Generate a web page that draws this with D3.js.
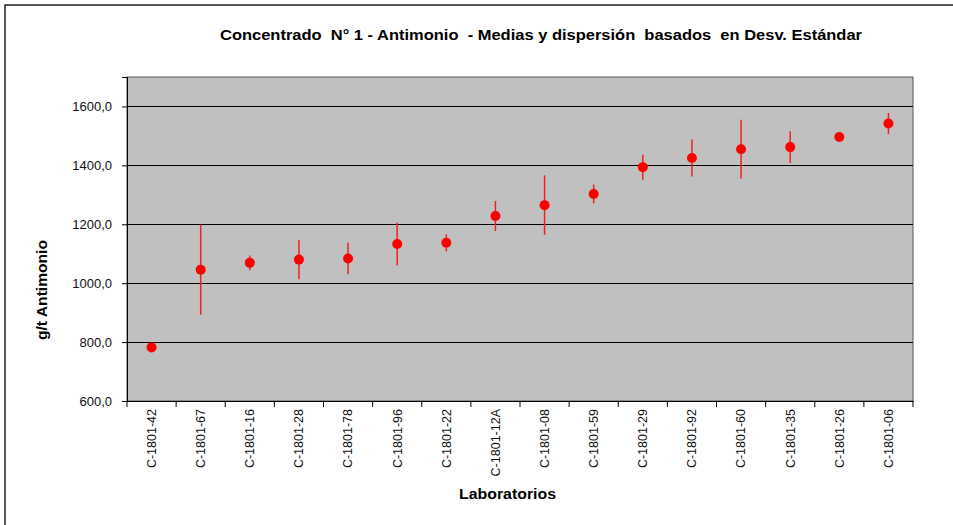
<!DOCTYPE html>
<html><head><meta charset="utf-8">
<script src="https://cdn.jsdelivr.net/npm/d3@7"></script>
<style>body{margin:0;background:#fff;} svg{display:block;font-family:Arial,"Liberation Sans",sans-serif;}</style>
</head><body>
<svg id="c" width="953" height="525"></svg>
<script>
const labs = ["C-1801-42","C-1801-67","C-1801-16","C-1801-28","C-1801-78","C-1801-96","C-1801-22","C-1801-12A","C-1801-08","C-1801-59","C-1801-29","C-1801-92","C-1801-60","C-1801-35","C-1801-26","C-1801-06"];
const means = [782,1046,1069,1080,1084,1133,1137,1228,1265,1303,1394,1425,1455,1462,1496,1542];
const sds   = [5,153,25,67,54,73,29,51,101,32,43,63,100,54,7,36];
const yTicks = [600,800,1000,1200,1400,1600];
const yMin = 600, yMax = 1700;

const svg = d3.select("#c");
const L = 127, R = 913, T = 77, B = 401;
const FF = "Arial, 'Liberation Sans', sans-serif";

// outer frame
svg.append("rect").attr("x",5).attr("y",5).attr("width",960).attr("height",530)
  .attr("fill","#fff").attr("stroke","#222").attr("stroke-width",1.5);

const x = d3.scaleBand().domain(labs).range([L,R]).padding(0);
const y = d3.scaleLinear().domain([yMin,yMax]).range([B,T]);

svg.append("rect").attr("x",L).attr("y",T).attr("width",R-L).attr("height",B-T)
  .attr("fill","#c0c0c0").attr("stroke","#555").attr("stroke-width",1);

// gridlines
svg.append("g").selectAll("line").data(yTicks.slice(1)).join("line")
  .attr("x1",L).attr("x2",R).attr("y1",d=>Math.round(y(d))+0.5).attr("y2",d=>Math.round(y(d))+0.5)
  .attr("stroke","#000").attr("stroke-width",1);

// y axis
const ya = svg.append("g").attr("transform",`translate(${L},0)`)
  .call(d3.axisLeft(y).tickValues(yTicks).tickSize(5).tickPadding(10)
    .tickFormat(d=>d3.format(".1f")(d).replace(".",",")));
ya.select(".domain").attr("stroke","#000");
ya.selectAll(".tick line").attr("stroke","#000");
ya.selectAll("text").attr("font-size","13px").attr("fill","#111").attr("font-family",FF);

// x axis
const xa = svg.append("g").attr("transform",`translate(0,${B})`)
  .call(d3.axisBottom(x).tickSize(0).tickPadding(0));
xa.select(".domain").attr("stroke","#000");
xa.selectAll(".tick text")
  .attr("transform","rotate(-90)")
  .attr("x",-8).attr("y",0).attr("dy","0.35em")
  .attr("text-anchor","end").attr("font-size","12.5px").attr("fill","#111")
  .attr("font-family",FF);
// boundary ticks
svg.append("g").selectAll("line").data(d3.range(labs.length+1)).join("line")
  .attr("x1",i=>L + i*x.step()).attr("x2",i=>L + i*x.step())
  .attr("y1",B).attr("y2",B+6).attr("stroke","#000");

// error bars
svg.append("g").selectAll("line").data(labs).join("line")
  .attr("x1",(d,i)=>x(d)+x.bandwidth()/2).attr("x2",(d,i)=>x(d)+x.bandwidth()/2)
  .attr("y1",(d,i)=>y(means[i]+sds[i])).attr("y2",(d,i)=>y(means[i]-sds[i]))
  .attr("stroke","#f02020").attr("stroke-width",1.5);

// dots
svg.append("g").selectAll("circle").data(labs).join("circle")
  .attr("cx",(d,i)=>x(d)+x.bandwidth()/2).attr("cy",(d,i)=>y(means[i]))
  .attr("r",5).attr("fill","#ff0000");

// titles
svg.append("text").attr("x",220).attr("y",40)
  .attr("font-size","15.5px").attr("font-weight","bold").attr("fill","#000")
  .attr("textLength",642).attr("lengthAdjust","spacingAndGlyphs")
  .style("white-space","pre")
  .text("Concentrado  N° 1 - Antimonio  - Medias y dispersión  basados  en Desv. Estándar");
svg.append("text").attr("x",459).attr("y",499)
  .attr("font-size","14.5px").attr("font-weight","bold").attr("fill","#000")
  .attr("textLength",97).attr("lengthAdjust","spacingAndGlyphs")
  .text("Laboratorios");
svg.append("text").attr("transform","translate(47,340) rotate(-90)")
  .attr("font-size","14.5px").attr("font-weight","bold").attr("fill","#000")
  .attr("textLength",100).attr("lengthAdjust","spacingAndGlyphs")
  .text("g/t Antimonio");
</script>
</body></html>
